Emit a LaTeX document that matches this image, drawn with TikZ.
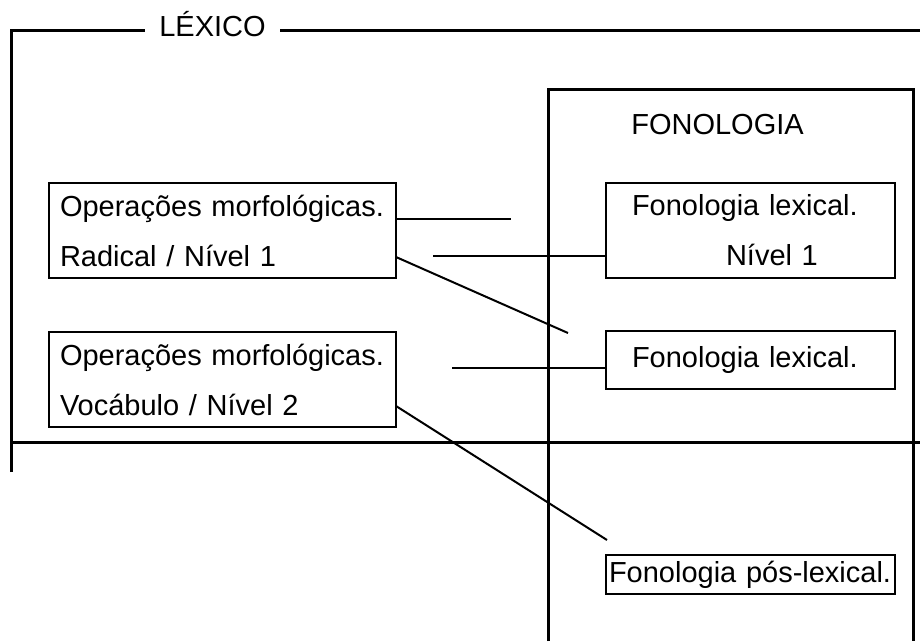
\documentclass[tikz,border=0pt]{standalone}
\usepackage{fontspec}
\setmainfont{Liberation Sans}

\tikzset{
	frameline/.style={line width=3pt},
	morfbox/.style={draw, line width=2.8pt, outer sep=0pt, anchor=north west, align=left,
		inner xsep=11pt, text width=325pt, minimum height=95pt},
	fonbox/.style={draw, line width=2.8pt, outer sep=0pt, anchor=north west, align=left,
		inner xsep=26pt, text width=237pt},
	ligacao/.style={line width=2pt}
}

\begin{document}
\begin{tikzpicture}[x=1pt, y=-1pt, font=\fontsize{29pt}{50pt}\selectfont]
	\useasboundingbox (0,0) rectangle (920,641);
	% moldura do lexico
	\draw [frameline] (11,472) -- (11,30) -- (920,30);
	\draw [frameline] (11,442) -- (920,442);
	\node [fill=white, inner xsep=14.5pt, anchor=base] (lexico) at (212.5,36) {LÉXICO};
	% moldura da fonologia
	\draw [frameline] (548,641) -- (548,89) -- (913,89) -- (913,641);
	\node (fonologia) at (717.5,125) {FONOLOGIA};
	\foreach \name/\x/\y/\labl in {
		radical/49/183/{Operações morfológicas.\\Radical / Nível 1},
		vocabulo/49/332/{Operações morfológicas.\\Vocábulo / Nível 2}
	}
	{
		\node [morfbox] (\name) at (\x,\y) {\labl};
	}
	\node [fonbox, minimum height=95pt] (lexical1) at (606,183) {Fonologia lexical.\\\hspace*{94pt}Nível 1};
	\node [fonbox, minimum height=58pt] (lexical2) at (606,331) {Fonologia lexical.};
	\node [fonbox, minimum height=39pt, inner xsep=3pt, text width=283pt] (poslexical) at (606,555) {Fonologia pós-lexical.};
	% pontas soltas
	\coordinate (fim1) at (511,219);
	\coordinate (ini2) at (433,256);
	\coordinate (fim3) at (568,333);
	\coordinate (ini4) at (452,368);
	\coordinate (fim5) at (607,540);
	\draw [ligacao] ([yshift=11.5pt]radical.east) -- (fim1);
	\draw [ligacao] (ini2) -- ([yshift=-25.5pt]lexical1.west);
	\draw [ligacao] ([yshift=-26.5pt]radical.east) -- (fim3);
	\draw [ligacao] (ini4) -- ([yshift=-8pt]lexical2.west);
	\draw [ligacao] ([yshift=-26.5pt]vocabulo.east) -- (fim5);
\end{tikzpicture}
\end{document}
